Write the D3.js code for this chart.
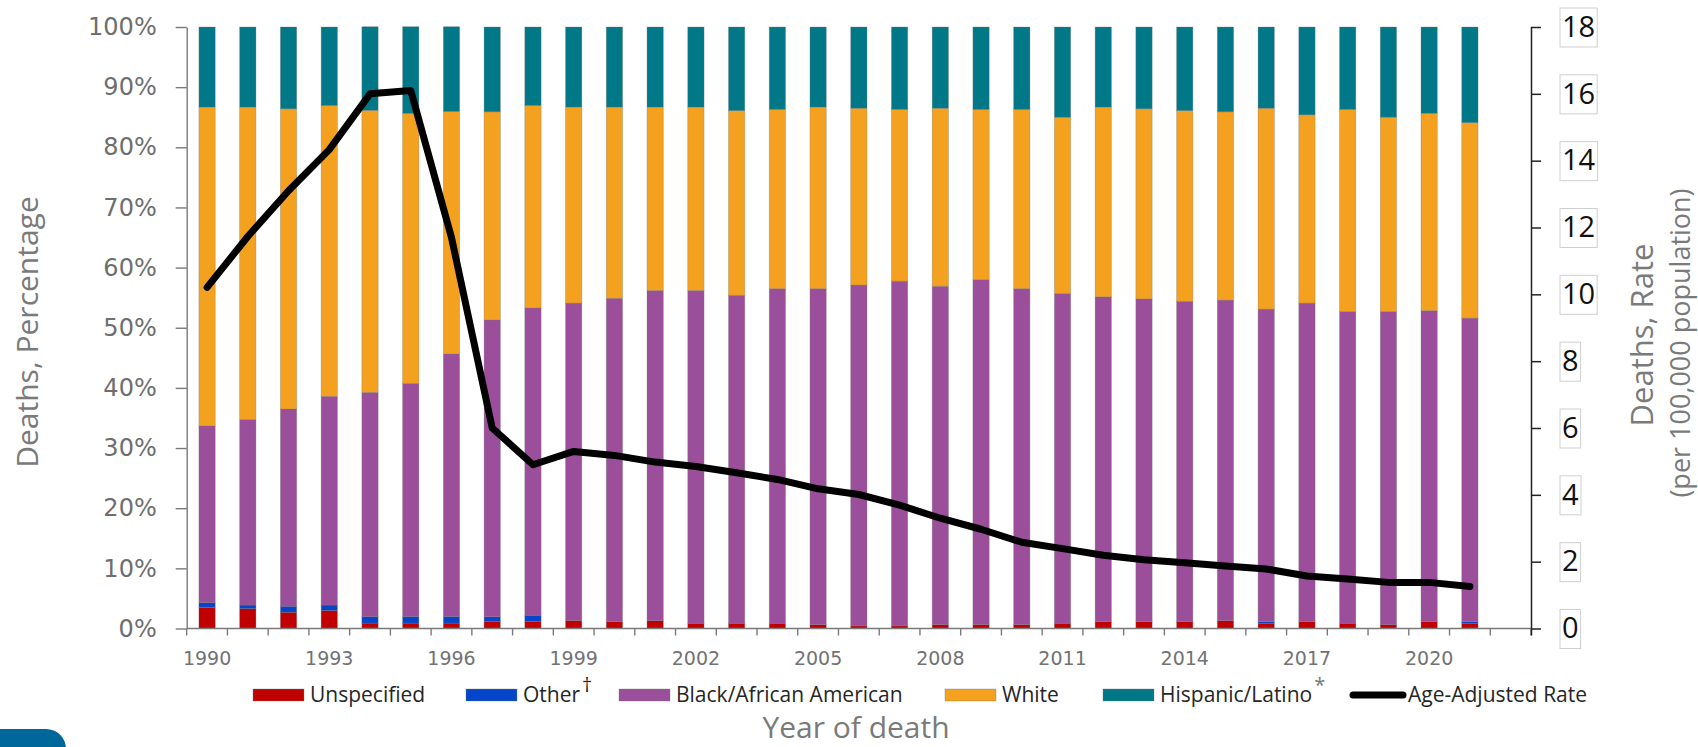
<!DOCTYPE html>
<html>
<head>
<meta charset="utf-8">
<script src="https://cdn.jsdelivr.net/npm/d3@7"></script>
<style>
  html, body { margin: 0; padding: 0; background: #fff; }
  svg { display: block; }
</style>
</head>
<body>
<svg id="chart" width="1698" height="747"></svg>
<script>
// ---------------- DATA ----------------
const years = d3.range(1990, 2022);           // 1990 … 2021
const slots = d3.range(1990, 2023);           // one empty slot after 2021
const labelYears = d3.range(1990, 2021, 3);   // 1990, 1993, … 2020

const unspecified = [3.5,3.3,2.7,3.0,0.9,0.9,0.9,1.15,1.15,1.3,1.15,1.3,0.87,0.87,0.87,0.65,0.43,0.43,0.65,0.65,0.65,0.87,1.15,1.15,1.15,1.3,0.87,1.15,0.87,0.65,1.15,0.87];
const other       = [0.8,0.6,1.0,0.9,1.1,1.1,1.1,0.8,1.05,0,0,0,0,0,0,0,0,0,0,0,0,0,0,0,0,0,0.28,0,0,0,0,0.28];
const black       = [29.4,30.85,32.8,34.7,37.25,38.75,43.65,49.35,51.1,52.8,53.75,54.9,55.33,54.53,55.63,55.85,56.67,57.32,56.25,57.35,55.85,54.83,54.0,53.65,53.25,53.3,51.95,52.95,51.83,52.05,51.7,50.45];
const white       = [53.0,51.95,49.9,48.35,46.9,44.9,40.3,34.6,33.65,32.6,31.8,30.5,30.5,30.7,29.8,30.2,29.4,28.55,29.6,28.3,29.8,29.3,31.55,31.6,31.7,31.3,33.4,31.3,33.6,32.3,32.8,32.5];
const hispanic    = [13.3,13.3,13.6,13.05,13.9,14.4,14.1,14.1,13.05,13.3,13.3,13.3,13.3,13.9,13.7,13.3,13.5,13.7,13.5,13.7,13.7,15.0,13.3,13.6,13.9,14.1,13.5,14.6,13.7,15.0,14.35,15.9];
const rate        = [10.21,11.73,13.1,14.33,16.0,16.1,11.7,6.0,4.9,5.3,5.18,4.98,4.85,4.66,4.46,4.18,4.01,3.69,3.30,2.97,2.58,2.39,2.19,2.06,1.97,1.87,1.78,1.57,1.48,1.38,1.38,1.26];

const pctTicks  = d3.range(0, 101, 10);
const rateTicks = d3.range(0, 19, 2);

const seriesKeys   = ["unspecified", "other", "black", "white", "hispanic"];
const seriesLabels = ["Unspecified", "Other", "Black/African American", "White", "Hispanic/Latino"];
const seriesMarks  = ["", "\u2020", "", "", "*"];
const seriesColors = ["#C00000", "#0545C9", "#9B4F9A", "#F4A11F", "#007888"];

// ---------------- BUILD ----------------
(function () {
const rows = years.map((y, i) => ({
  year: y, unspecified: unspecified[i], other: other[i], black: black[i],
  white: white[i], hispanic: hispanic[i]
}));
const stacked = d3.stack().keys(seriesKeys)(rows);

const svg = d3.select("#chart");
const pLeft = 186.7, pRight = 1531, pTop = 27, pBottom = 628.5;

const x = d3.scaleBand().domain(slots).range([pLeft, pRight]).paddingInner(0.6).paddingOuter(0.3);
const yL = d3.scaleLinear().domain([0, 100]).range([pBottom, pTop]);
const yR = d3.scaleLinear().domain([0, 18]).range([pBottom, pTop]);

const grey = "#7a7a7a";

// bars
const gBars = svg.append("g");
stacked.forEach((s, k) => {
  gBars.append("g").attr("fill", seriesColors[k])
    .selectAll("rect").data(s).join("rect")
    .attr("x", d => x(d.data.year))
    .attr("width", x.bandwidth())
    .attr("y", d => yL(d[1]))
    .attr("height", d => Math.max(0, yL(d[0]) - yL(d[1])))
    .attr("stroke", "rgba(120,120,120,0.45)")
    .attr("stroke-width", 0.7);
});

// left axis
const axL = svg.append("g").attr("transform", `translate(${pLeft},0)`)
  .call(d3.axisLeft(yL).tickValues(pctTicks).tickFormat(d => d + "%")
        .tickSize(11).tickSizeOuter(0).tickPadding(19));
axL.select(".domain").attr("stroke", grey).attr("stroke-width", 1.4);
axL.selectAll(".tick line").attr("stroke", grey).attr("stroke-width", 1.4);
axL.selectAll(".tick text").attr("fill", "#6e6e6e")
  .style("font-family", "'DejaVu Sans', Verdana, sans-serif").style("font-size", "24px");

// bottom axis: baseline + boundary ticks + labels
const step = x.step(), pad = (x.step() - x.bandwidth()) / 2;
const bounds = slots.map(s => x(s) - pad).concat([x(slots[slots.length - 1]) - pad + step]);
const axB = svg.append("g");
axB.append("line").attr("x1", pLeft).attr("x2", pRight).attr("y1", pBottom).attr("y2", pBottom)
  .attr("stroke", grey).attr("stroke-width", 1.4);
axB.selectAll("line.tk").data(bounds).join("line").attr("class", "tk")
  .attr("x1", d => d).attr("x2", d => d).attr("y1", pBottom).attr("y2", pBottom + 7)
  .attr("stroke", grey).attr("stroke-width", 1.4);
const axBL = svg.append("g").attr("transform", `translate(0,${pBottom})`)
  .call(d3.axisBottom(x).tickValues(labelYears).tickSize(0).tickPadding(23));
axBL.select(".domain").remove();
axBL.selectAll(".tick text").attr("fill", "#727272")
  .style("font-family", "'DejaVu Sans', Verdana, sans-serif").style("font-size", "19px");

// right axis
const axR = svg.append("g").attr("transform", `translate(${pRight},0)`)
  .call(d3.axisRight(yR).tickValues(rateTicks).tickSize(10).tickSizeOuter(0).tickPadding(21));
axR.select(".domain").attr("stroke", "#222").attr("stroke-width", 1.5)
  .attr("d", `M0.5,${pTop}V${pBottom + 7}`);
axR.selectAll(".tick line").attr("stroke", "#222").attr("stroke-width", 1.5);
axR.selectAll(".tick text").attr("fill", "#111")
  .style("font-family", "'Open Sans', sans-serif").style("font-size", "29px");
axR.selectAll(".tick").each(function () {
  const t = d3.select(this).select("text").node();
  const bb = t.getBBox();
  d3.select(this).insert("rect", "text")
    .attr("x", bb.x - 2).attr("y", -19.5).attr("width", bb.width + 4).attr("height", 39)
    .attr("fill", "#fff").attr("stroke", "#cfcfcf").attr("stroke-width", 1);
});

// rate line
const line = d3.line().x((d, i) => x(years[i]) + x.bandwidth() / 2).y(d => yR(d));
svg.append("path").datum(rate).attr("d", line)
  .attr("fill", "none").attr("stroke", "#000").attr("stroke-width", 7)
  .attr("stroke-linejoin", "round").attr("stroke-linecap", "round");

// axis titles
const titleFont = "'Open Sans', sans-serif";
svg.append("text").attr("transform", "translate(38,332) rotate(-90)")
  .attr("text-anchor", "middle").attr("fill", grey)
  .style("font-family", titleFont).style("font-size", "30px").text("Deaths, Percentage");
svg.append("text").attr("transform", "translate(1653,335) rotate(-90)")
  .attr("text-anchor", "middle").attr("fill", grey)
  .style("font-family", titleFont).style("font-size", "31px").text("Deaths, Rate");
svg.append("text").attr("transform", "translate(1690,343) rotate(-90)")
  .attr("text-anchor", "middle").attr("fill", grey)
  .style("font-family", titleFont).style("font-size", "27px").text("(per 100,000 population)");
svg.append("text").attr("x", 856).attr("y", 738)
  .attr("text-anchor", "middle").attr("fill", grey)
  .style("font-family", titleFont).style("font-size", "30px").text("Year of death");

// legend
const legendX = [253, 466, 619, 945, 1103];
const gLeg = svg.append("g").style("font-family", titleFont).style("font-size", "21px");
seriesKeys.forEach((k, i) => {
  gLeg.append("rect").attr("x", legendX[i]).attr("y", 689).attr("width", 51).attr("height", 12)
    .attr("fill", seriesColors[i]).attr("stroke", "rgba(120,120,120,0.5)").attr("stroke-width", 0.7);
  const t = gLeg.append("text").attr("x", legendX[i] + 57).attr("y", 702).attr("fill", "#262626")
    .text(seriesLabels[i]);
  if (seriesMarks[i]) {
    t.append("tspan").attr("dx", 2).attr("dy", -10).style("font-size", "20px")
      .attr("fill", i === 4 ? "#777" : "#262626").text(seriesMarks[i]);
  }
});
gLeg.append("line").attr("x1", 1353).attr("x2", 1403).attr("y1", 695).attr("y2", 695)
  .attr("stroke", "#000").attr("stroke-width", 7).attr("stroke-linecap", "round");
gLeg.append("text").attr("x", 1408).attr("y", 702).attr("fill", "#262626").text("Age-Adjusted Rate");

// decorative corner tab (bottom-left)
svg.append("path").attr("d", "M0,747V729H46A20,20 0 0 1 66,749V747Z").attr("fill", "#00679A");
})();
</script>
</body>
</html>
